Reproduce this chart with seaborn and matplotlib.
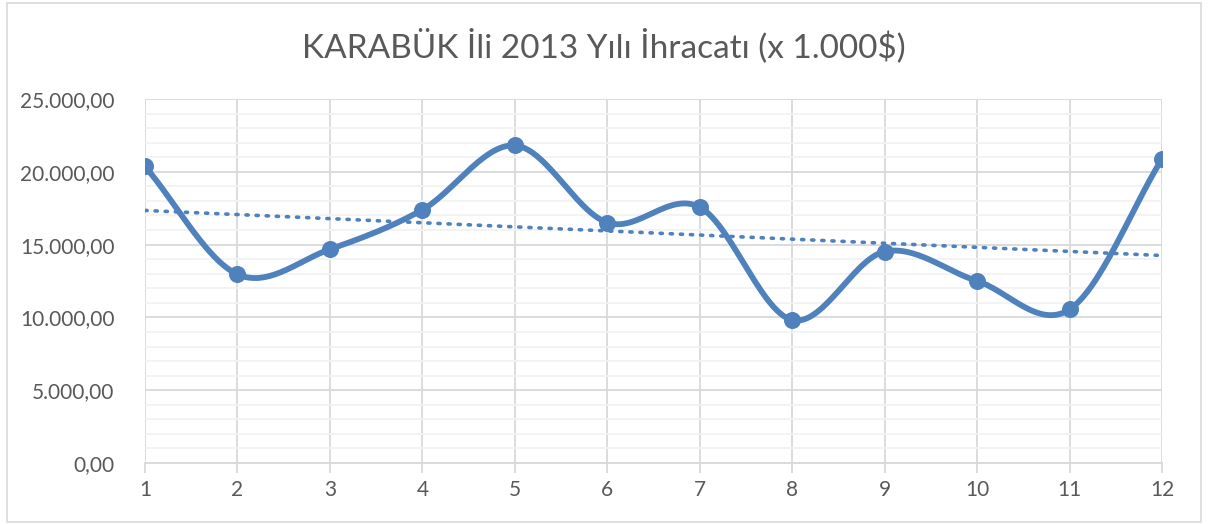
import numpy as np
import pandas as pd
import matplotlib
matplotlib.use('Agg')
import matplotlib.pyplot as plt
import seaborn as sns
from matplotlib.ticker import FuncFormatter, MultipleLocator

# Aylar ve ihracat degerleri (x 1.000$)
aylar = [1, 2, 3, 4, 5, 6, 7, 8, 9, 10, 11, 12]
ihracat = [20370, 12960, 14680, 17390, 21810, 16510, 17570, 9820, 14520, 12500, 10550, 20890]
baslik = "KARABÜK İli 2013 Yılı İhracatı (x 1.000$)"

mavi = "#4F81BD"
gri_yazi = "#595959"

df = pd.DataFrame({"ay": aylar, "deger": ihracat})


def catmull_rom(x, y, n=30):
    # Excel'in "yumusatilmis cizgi" gorunumune benzer egri
    x = np.asarray(x, float)
    y = np.asarray(y, float)
    px = np.concatenate([[2 * x[0] - x[1]], x, [2 * x[-1] - x[-2]]])
    py = np.concatenate([[2 * y[0] - y[1]], y, [2 * y[-1] - y[-2]]])
    xs, ys = [], []
    t = np.linspace(0, 1, n, endpoint=False)
    for i in range(1, len(px) - 2):
        p0, p1, p2, p3 = py[i - 1], py[i], py[i + 1], py[i + 2]
        q0, q1, q2, q3 = px[i - 1], px[i], px[i + 1], px[i + 2]
        for arr, a0, a1, a2, a3 in ((ys, p0, p1, p2, p3), (xs, q0, q1, q2, q3)):
            arr.extend(0.5 * (2 * a1 + (-a0 + a2) * t
                              + (2 * a0 - 5 * a1 + 4 * a2 - a3) * t ** 2
                              + (-a0 + 3 * a1 - 3 * a2 + a3) * t ** 3))
    xs.append(x[-1])
    ys.append(y[-1])
    return pd.DataFrame({"ay": xs, "deger": ys})


egri = catmull_rom(aylar, ihracat)

sns.set_style("white")
plt.rcParams['font.family'] = ['Lato', 'DejaVu Sans']

fig = plt.figure(figsize=(12.08, 5.24), dpi=100)
ax = fig.add_axes([145 / 1208, 61 / 524, 1017 / 1208, 364 / 524])

# cerceve
fig.patches.append(plt.Rectangle((0.006, 0.004), 0.988, 0.99, transform=fig.transFigure,
                                 fill=False, edgecolor="#D9D9D9", linewidth=1.2))

# egilim cizgisi (dogrusal)
sns.regplot(data=df, x="ay", y="deger", ax=ax, scatter=False, ci=None, truncate=True,
            line_kws=dict(color=mavi, linestyle=(0, (0.6, 2.2)), linewidth=2.6,
                          dash_capstyle="round", zorder=3))

sns.lineplot(data=egri, x="ay", y="deger", ax=ax, color=mavi, linewidth=4.2,
             solid_capstyle="round", zorder=4)
sns.scatterplot(data=df, x="ay", y="deger", ax=ax, color=mavi, s=150,
                edgecolor=mavi, linewidth=0, zorder=5)

ax.set_xlim(1, 12)
ax.set_ylim(0, 25000)
ax.set_xticks(aylar)
ax.yaxis.set_major_locator(MultipleLocator(5000))
ax.yaxis.set_minor_locator(MultipleLocator(1000))
ax.yaxis.set_major_formatter(FuncFormatter(
    lambda v, p: f"{v:,.2f}".replace(",", "X").replace(".", ",").replace("X", ".")))

ax.grid(which="major", axis="both", color="#D9D9D9", linewidth=1.3)
ax.grid(which="minor", axis="y", color="#F2F2F2", linewidth=1.3)
ax.set_axisbelow(True)
for s in ax.spines.values():
    s.set_visible(False)
ax.spines["bottom"].set_visible(True)
ax.spines["bottom"].set_color("#D9D9D9")
ax.spines["bottom"].set_linewidth(1.3)

ax.tick_params(axis="x", which="major", length=7, width=1.3, color="#D9D9D9",
               labelsize=15, labelcolor=gri_yazi, pad=5, bottom=True)
ax.tick_params(axis="y", which="both", length=0, labelsize=15, labelcolor=gri_yazi, pad=22)
ax.set_xlabel("")
ax.set_ylabel("")

fig.text(0.5, 0.912, baslik, ha="center", va="center", fontsize=24, color=gri_yazi)

fig.savefig("out.png", dpi=100)
